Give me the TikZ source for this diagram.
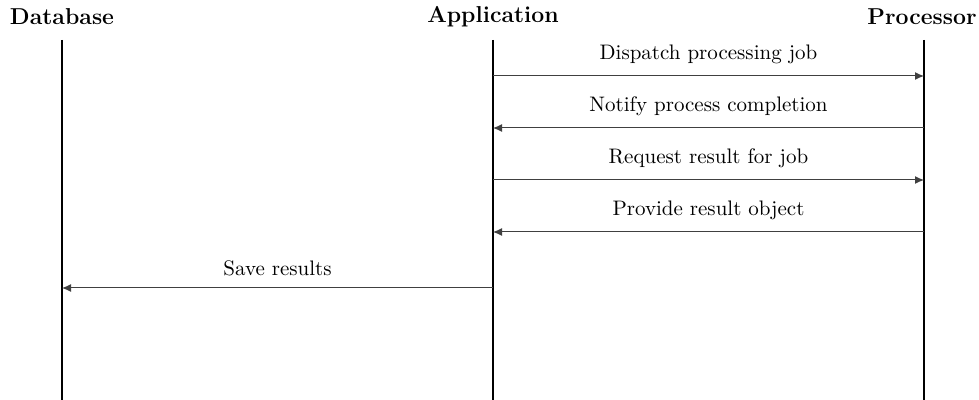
\documentclass[tikz,border=0pt]{standalone}
\usetikzlibrary{arrows.meta}
\begin{document}
\begin{tikzpicture}[x=0.5pt,y=-0.5pt,
  head/.style={font=\fontsize{11.5}{13}\selectfont\bfseries, inner sep=0pt, text=black},
  lifeline/.style={line width=0.8pt, black},
  msg/.style={line width=0.5pt, black!75, -{Latex[length=4.5pt,width=4pt]}},
  lbl/.style={font=\fontsize{10.5}{12}\selectfont, inner sep=0pt, text=black}]
\useasboundingbox (0,0) rectangle (979,400);
\node[head] (db) at (62,17) {Database};
\node[head] (app) at (493,17) {Application};
\node[head] (proc) at (922,17) {Processor};
\coordinate (dbt) at (62,40); \coordinate (dbb) at (62,400);
\coordinate (appt) at (493,40); \coordinate (appb) at (493,400);
\coordinate (proct) at (924,40); \coordinate (procb) at (924,400);
\draw[lifeline] (dbt) -- (dbb);
\draw[lifeline] (appt) -- (appb);
\draw[lifeline] (proct) -- (procb);
\coordinate (a1) at (493,76); \coordinate (p1) at (924,76);
\coordinate (a2) at (493,128); \coordinate (p2) at (924,128);
\coordinate (a3) at (493,180); \coordinate (p3) at (924,180);
\coordinate (a4) at (493,232); \coordinate (p4) at (924,232);
\coordinate (a5) at (493,288); \coordinate (d5) at (62,288);
\draw[msg] (a1) -- node[lbl, above=6pt] (l1) {Dispatch processing job} (p1);
\draw[msg] (p2) -- node[lbl, above=6pt] (l2) {Notify process completion} (a2);
\draw[msg] (a3) -- node[lbl, above=6pt] (l3) {Request result for job} (p3);
\draw[msg] (p4) -- node[lbl, above=6pt] (l4) {Provide result object} (a4);
\draw[msg] (a5) -- node[lbl, above=6pt] (l5) {Save results} (d5);
\end{tikzpicture}
\end{document}
